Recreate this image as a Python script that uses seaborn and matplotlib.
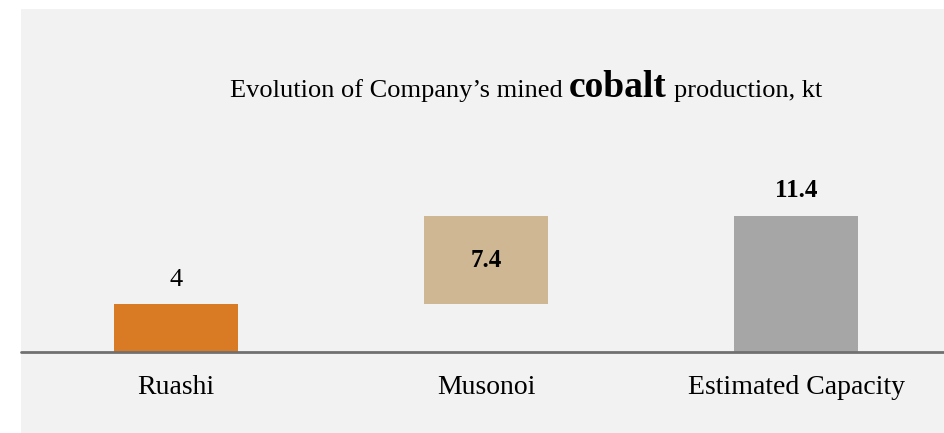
import numpy as np
import pandas as pd
import matplotlib
matplotlib.use("Agg")
import matplotlib.pyplot as plt
from matplotlib.patches import Rectangle
import seaborn as sns

# data (kt of mined cobalt)
categories = ["Ruashi", "Musonoi", "Estimated Capacity"]
increments = [4, 7.4, 11.4]
bases = [0, 4, 0]
bar_colors = ["#D97B24", "#CFB793", "#A6A6A6"]
label_text = ["4", "7.4", "11.4"]

panel = "#F2F2F2"

sns.set_theme(style="white")
plt.rcParams["font.family"] = ["Liberation Serif", "DejaVu Serif"]

df = pd.DataFrame({"cat": categories,
                   "top": np.array(bases) + np.array(increments),
                   "base": bases})

W, H = 945, 433
fig = plt.figure(figsize=(W / 100, H / 100), dpi=100)
fig.patch.set_facecolor("white")
# grey panel behind everything
fig.patches.append(Rectangle((21 / W, 0), 1 - 21 / W, 1 - 9 / H, transform=fig.transFigure,
                             facecolor=panel, edgecolor="none", zorder=-10))

base_y = 352
ax = fig.add_axes([21 / W, (H - base_y) / H, 1 - 21 / W, (base_y - 9) / H])
ax.set_facecolor("none")

# waterfall: full bars then mask the floating part with the panel colour
sns.barplot(data=df, x="cat", y="top", hue="cat", palette=bar_colors, saturation=1,
            width=0.4, linewidth=0, legend=False, ax=ax)
sns.barplot(data=df, x="cat", y="base", color=panel, saturation=1,
            width=0.4, linewidth=0, ax=ax)

ax.axhline(0, color="#707072", lw=2, clip_on=False)

px_per_unit = 136 / 11.4
ax.set_ylim(0, (base_y - 9) / px_per_unit)
ax.set_xlim(-0.5, 2.48)

for s in ax.spines.values():
    s.set_visible(False)
ax.set_yticks([])
ax.set_xlabel("")
ax.set_ylabel("")
ax.tick_params(axis="x", length=0, pad=16.5, labelsize=20, labelcolor="black")

# value labels
ax.annotate(label_text[0], (0, df["top"][0]), xytext=(0, 13), textcoords="offset points",
            ha="center", va="baseline", fontsize=19, color="black")
ax.text(1, bases[1] + increments[1] / 2, label_text[1], ha="center", va="center",
        fontsize=18, fontweight="bold", color="black")
ax.annotate(label_text[2], (2, df["top"][2]), xytext=(0, 14), textcoords="offset points",
            ha="center", va="baseline", fontsize=18, fontweight="bold", color="black")

# title with bold "cobalt"
renderer = fig.canvas.get_renderer()
y_t = 1 - 96.7 / H
t1 = fig.text(230 / W, y_t, "Evolution of Company’s mined", fontsize=19,
              ha="left", va="baseline", color="black")
x = t1.get_window_extent(renderer).x1 + 6
t2 = fig.text(x / W, y_t, "cobalt", fontsize=27, fontweight="bold",
              ha="left", va="baseline", color="black")
x = t2.get_window_extent(renderer).x1 + 8
fig.text(x / W, y_t, "production, kt", fontsize=19,
         ha="left", va="baseline", color="black")

fig.savefig("out.png", dpi=100, facecolor=fig.get_facecolor())
